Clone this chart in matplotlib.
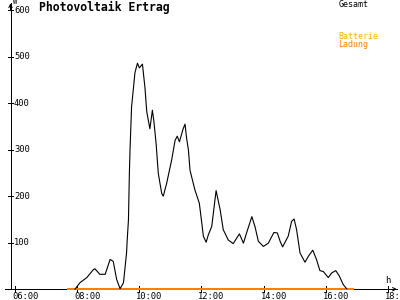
import matplotlib
matplotlib.use("Agg")
import matplotlib.pyplot as plt

# ---------------------------------------------------------------------------
# Data: hour of day -> power in W
# ---------------------------------------------------------------------------
hours = [7.93, 8.09, 8.31, 8.52, 8.57, 8.73, 8.90, 9.06, 9.16, 9.27,
         9.38, 9.49, 9.59, 9.61, 9.65, 9.68, 9.70, 9.75, 9.86, 9.94,
         10.00, 10.10, 10.18, 10.24, 10.34, 10.42, 10.47, 10.54, 10.61, 10.72,
         10.77, 10.88, 11.04, 11.15, 11.22, 11.29, 11.41, 11.47, 11.52, 11.58,
         11.63, 11.79, 11.93, 12.01, 12.06, 12.15, 12.22, 12.33, 12.47, 12.60,
         12.70, 12.86, 13.02, 13.22, 13.35, 13.45, 13.62, 13.72, 13.83, 13.99,
         14.15, 14.33, 14.44, 14.53, 14.61, 14.79, 14.90, 14.98, 15.06, 15.17,
         15.33, 15.44, 15.58, 15.70, 15.81, 15.92, 16.08, 16.19, 16.32, 16.43,
         16.56, 16.67]
gesamt = [0, 14, 25, 42, 44, 32, 32, 64, 60, 21,
          1, 14, 79, 106, 149, 250, 299, 392, 466, 486,
          476, 484, 434, 381, 345, 385, 360, 313, 249, 206,
          200, 228, 278, 320, 329, 317, 345, 355, 325, 299,
          256, 213, 185, 142, 114, 101, 117, 135, 212, 171,
          128, 106, 98, 119, 99, 121, 156, 135, 103, 92,
          99, 122, 121, 103, 91, 114, 146, 151, 128, 78,
          58, 71, 84, 64, 40, 38, 25, 35, 40, 29,
          10, 1]

# battery charge: flat zero line over the daylight period
ladung_hours = [7.70, 16.88]
ladung = [0, 0]

y_ticks = [100, 200, 300, 400, 500, 600]
x_ticks = [6, 8, 10, 12, 14, 16, 18]
x_labels = ["06:00", "08:00", "10:00", "12:00", "14:00", "16:00", "18:"]

# ---------------------------------------------------------------------------
# Plot
# ---------------------------------------------------------------------------
MONO = "DejaVu Sans Mono"
ORANGE = "#FF8000"
AMBER = "#FFB000"
LW = 0.72  # one pixel at 100 dpi

fig = plt.figure(figsize=(4, 3), dpi=100)
ax = fig.add_axes([0, 0, 1, 1])
ax.set_xlim(5.517, 18.387)
ax.set_ylim(-23.2, 621.9)
ax.axis("off")

X0 = 5.855  # position of the vertical axis (hours)

# axes with arrows
ax.plot([5.68, 18.30], [0, 0], color="black", lw=LW, antialiased=False, zorder=2)
ax.plot([X0, X0], [0, 615], color="black", lw=LW, antialiased=False, zorder=2)
ax.annotate("", xy=(18.38, 0), xytext=(18.1, 0),
            arrowprops=dict(arrowstyle="->", lw=LW, color="black",
                            mutation_scale=6))
ax.annotate("", xy=(X0, 621), xytext=(X0, 595),
            arrowprops=dict(arrowstyle="->", lw=LW, color="black",
                            mutation_scale=6))

# ticks + labels
for v in y_ticks:
    ax.plot([X0 - 0.07, X0 + 0.08], [v, v], color="black", lw=LW,
            antialiased=False)
    ax.text(X0 + 0.11, v, str(v), fontsize=6.3, family=MONO,
            ha="left", va="center")
for h, lab in zip(x_ticks, x_labels):
    ax.plot([h, h], [-6, 6], color="black", lw=LW, antialiased=False)
    ax.text(h - 0.1, -6, lab, fontsize=6.3, family=MONO, ha="left", va="top")

ax.text(X0 + 0.09, 623, "W", fontsize=5, family=MONO, ha="left", va="top")
ax.text(18.0, 10, "h", fontsize=6.5, family=MONO, ha="center", va="bottom")

# series
ax.plot(ladung_hours, ladung, color=ORANGE, lw=1.1, antialiased=False, zorder=3)
ax.plot(hours, gesamt, color="black", lw=0.8, zorder=4)

# title and legend
ax.text(6.78, 621, "Photovoltaik Ertrag", fontsize=8.3, family=MONO,
        weight="bold", ha="left", va="top")
ax.text(16.4, 612, "Gesamt", fontsize=6, family=MONO, ha="left", va="center")
ax.text(16.4, 544, "Batterie", fontsize=6, family=MONO, color=AMBER,
        ha="left", va="center")
ax.text(16.4, 527, "Ladung", fontsize=6, family=MONO, color=ORANGE,
        ha="left", va="center")

fig.savefig("out.png", dpi=100)
